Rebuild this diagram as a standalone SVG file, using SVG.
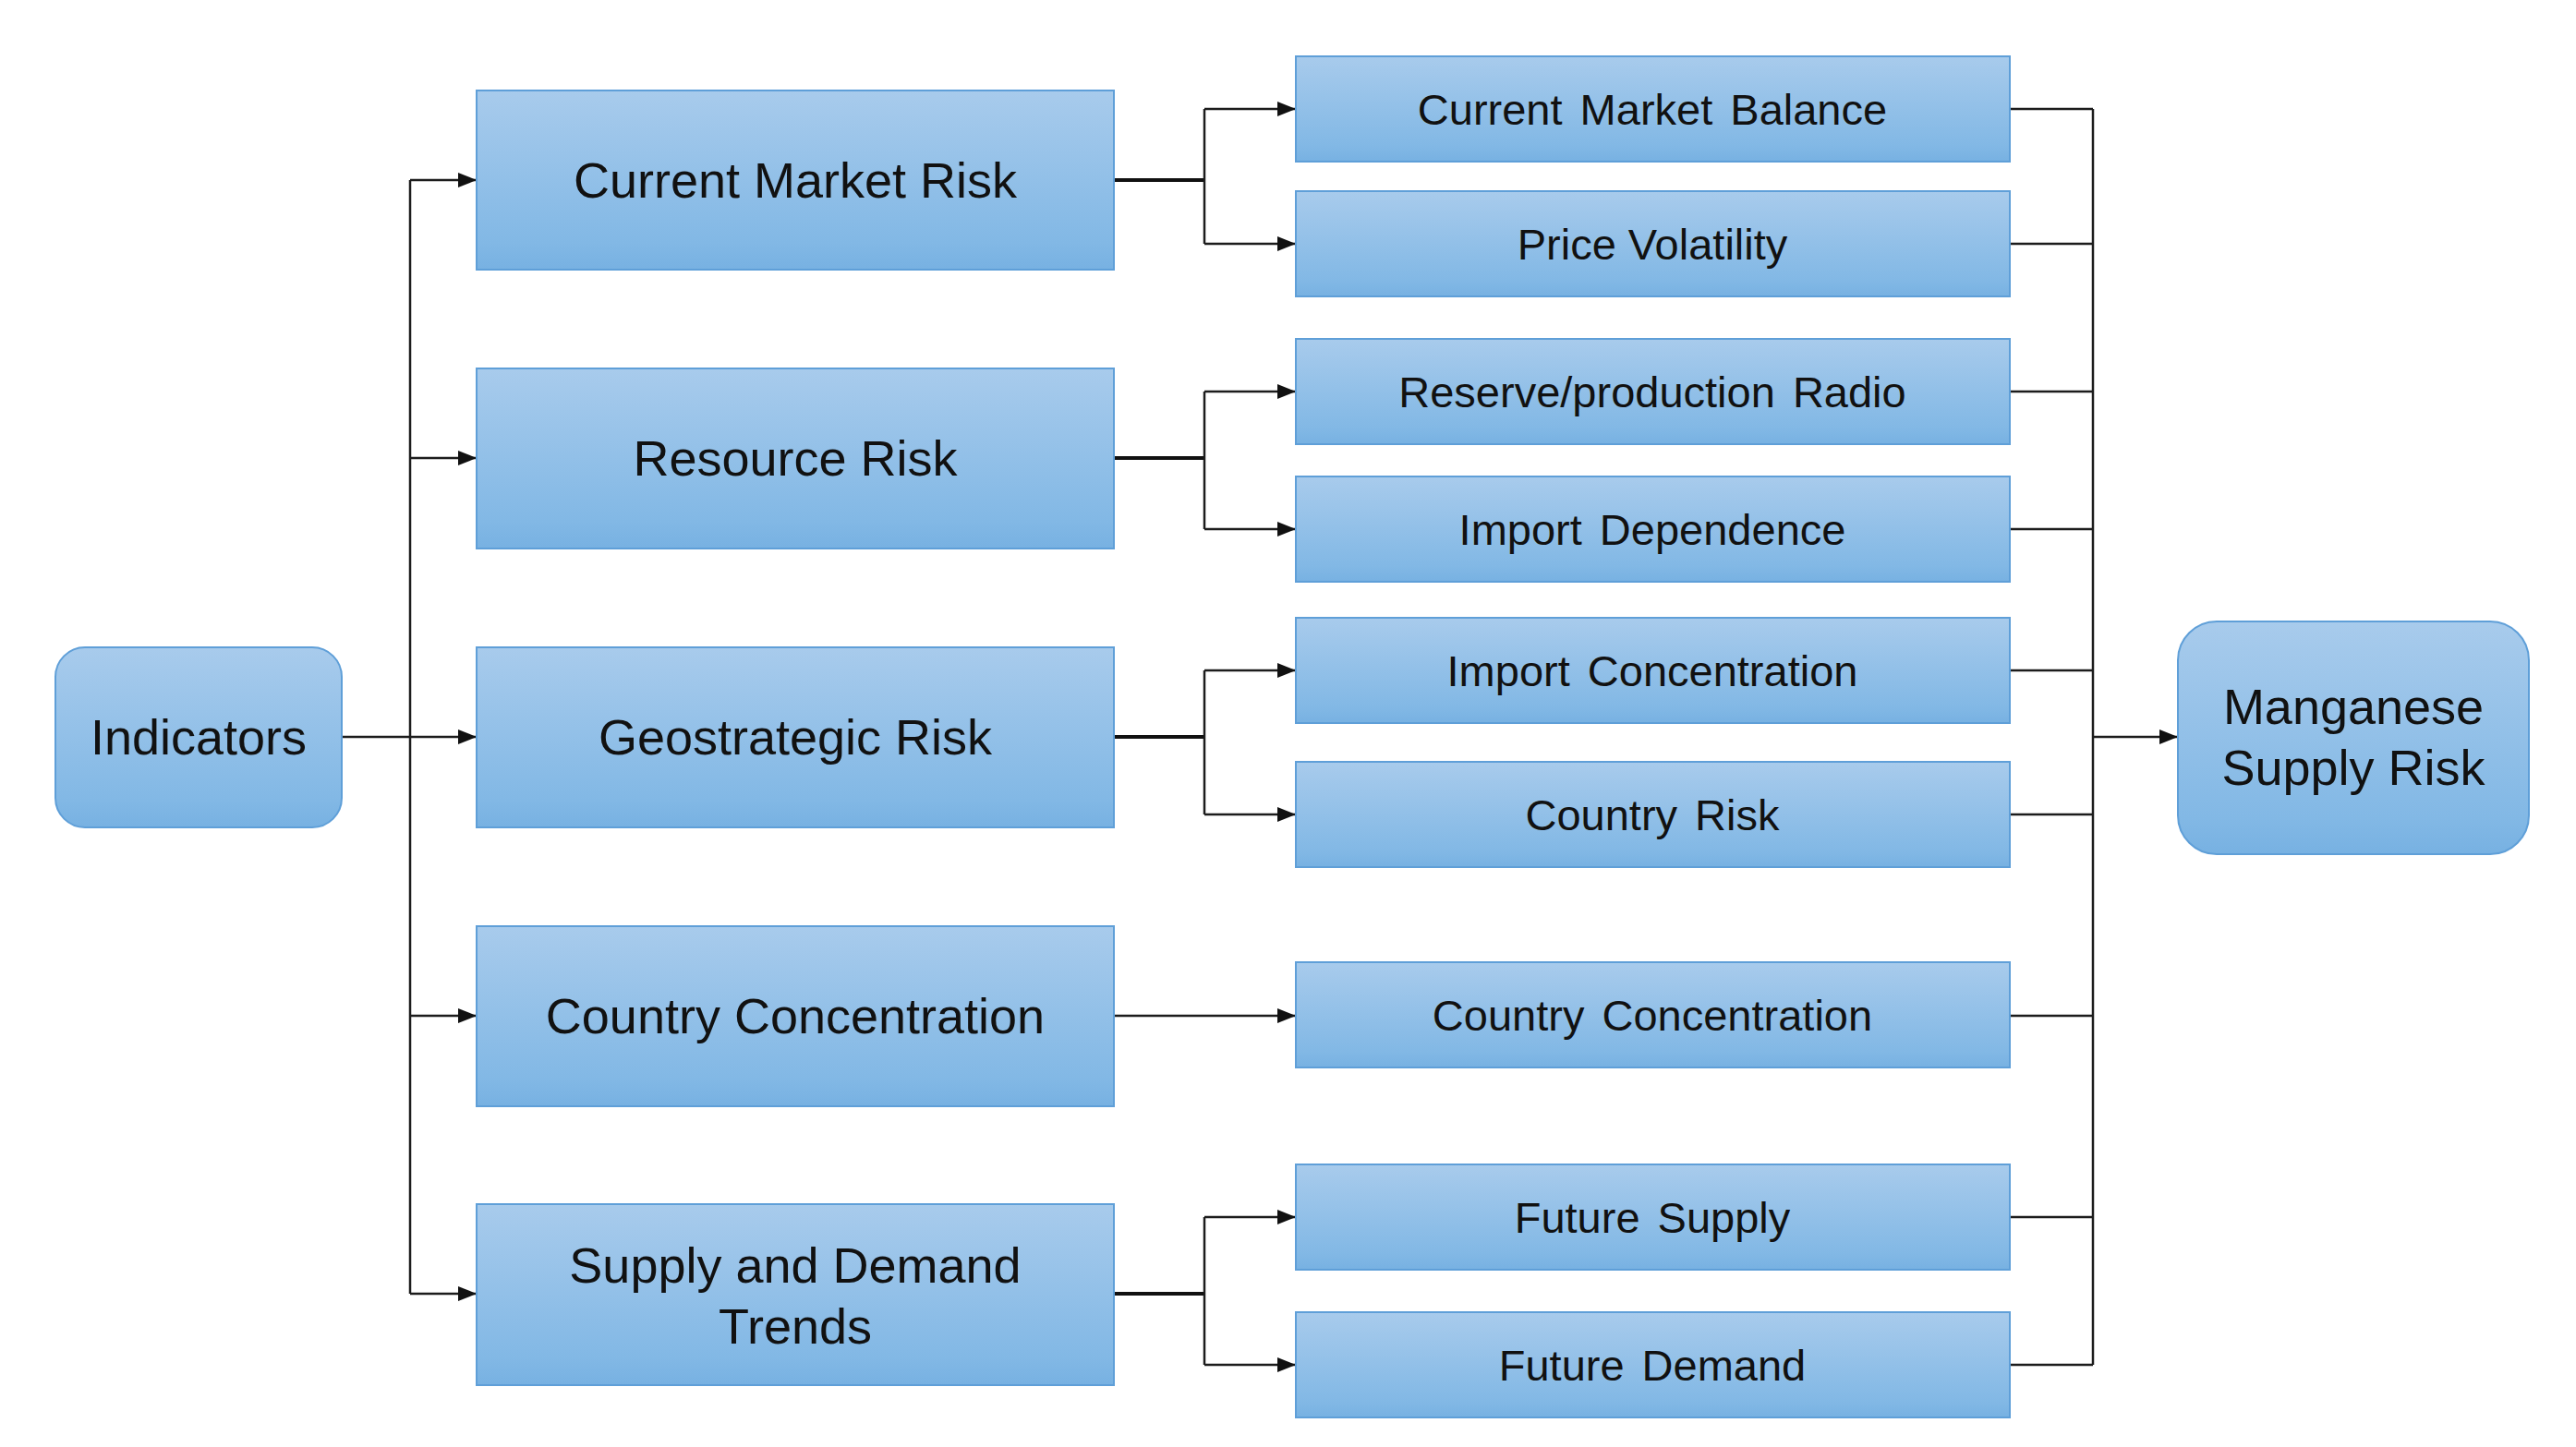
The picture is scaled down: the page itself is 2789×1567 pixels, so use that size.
<svg xmlns="http://www.w3.org/2000/svg" width="2789" height="1567" viewBox="0 0 2789 1567">
<defs>
<linearGradient id="g" x1="0" y1="0" x2="0" y2="1">
<stop offset="0" stop-color="#a8cbec"/>
<stop offset="0.85" stop-color="#82b8e5"/>
<stop offset="1" stop-color="#77b1e2"/>
</linearGradient>
<marker id="ar" markerUnits="userSpaceOnUse" markerWidth="22" markerHeight="18" refX="20" refY="8" orient="auto">
<path d="M0,0 L20,8 L0,16 z" fill="#111"/>
</marker>
</defs>
<style>
.box{fill:url(#g);stroke:#5f9fd8;stroke-width:2}
.t{font-family:"Liberation Sans",Arial,sans-serif;fill:#111;text-anchor:middle}
.big{font-size:54px}
.sm{font-size:47px;word-spacing:6px}
.ln{fill:none;stroke:#1c1c1c;stroke-width:2.5}
.thk{fill:none;stroke:#111;stroke-width:4}
.ah{marker-end:url(#ar)}
</style>
<rect width="2789" height="1567" fill="#fff"/>
<g id="connectors">
<path class="ln" d="M370,798 H444"/>
<path class="ln" d="M444,195 V1401"/>
<path class="ln ah" d="M444,195 H516"/>
<path class="ln ah" d="M444,496 H516"/>
<path class="ln ah" d="M444,798 H516"/>
<path class="ln ah" d="M444,1100 H516"/>
<path class="ln ah" d="M444,1401 H516"/>
<path class="thk" d="M1206,195 H1304"/>
<path class="ln" d="M1304,118 V264"/>
<path class="ln ah" d="M1304,118 H1403"/>
<path class="ln ah" d="M1304,264 H1403"/>
<path class="thk" d="M1206,496 H1304"/>
<path class="ln" d="M1304,424 V573"/>
<path class="ln ah" d="M1304,424 H1403"/>
<path class="ln ah" d="M1304,573 H1403"/>
<path class="thk" d="M1206,798 H1304"/>
<path class="ln" d="M1304,726 V882"/>
<path class="ln ah" d="M1304,726 H1403"/>
<path class="ln ah" d="M1304,882 H1403"/>
<path class="ln ah" d="M1206,1100 H1403"/>
<path class="thk" d="M1206,1401 H1304"/>
<path class="ln" d="M1304,1318 V1478"/>
<path class="ln ah" d="M1304,1318 H1403"/>
<path class="ln ah" d="M1304,1478 H1403"/>
<path class="ln" d="M2176,118 H2266 M2176,264 H2266 M2176,424 H2266 M2176,573 H2266 M2176,726 H2266 M2176,882 H2266 M2176,1100 H2266 M2176,1318 H2266 M2176,1478 H2266"/>
<path class="ln" d="M2266,118 V1478" stroke="#444"/>
<path class="ln ah" d="M2266,798 H2358"/>
</g>
<g id="indicators">
<rect class="box" x="60" y="701" width="310" height="195" rx="32"/>
<text class="t big" x="215" y="817">Indicators</text>
</g>
<g id="current-market-risk">
<rect class="box" x="516" y="98" width="690" height="194"/>
<text class="t big" x="861" y="214">Current Market Risk</text>
</g>
<g id="resource-risk">
<rect class="box" x="516" y="399" width="690" height="195"/>
<text class="t big" x="861" y="515">Resource Risk</text>
</g>
<g id="geostrategic-risk">
<rect class="box" x="516" y="701" width="690" height="195"/>
<text class="t big" x="861" y="817">Geostrategic Risk</text>
</g>
<g id="country-concentration">
<rect class="box" x="516" y="1003" width="690" height="195"/>
<text class="t big" x="861" y="1119">Country Concentration</text>
</g>
<g id="supply-demand-trends">
<rect class="box" x="516" y="1304" width="690" height="196"/>
<text class="t big" x="861" y="1389">Supply and Demand</text>
<text class="t big" x="861" y="1455">Trends</text>
</g>
<g id="current-market-balance">
<rect class="box" x="1403" y="61" width="773" height="114"/>
<text class="t sm" x="1789" y="135">Current Market Balance</text>
</g>
<g id="price-volatility">
<rect class="box" x="1403" y="207" width="773" height="114"/>
<text class="t sm" x="1789" y="281" style="word-spacing:0">Price Volatility</text>
</g>
<g id="reserve-production">
<rect class="box" x="1403" y="367" width="773" height="114"/>
<text class="t sm" x="1789" y="441">Reserve/production Radio</text>
</g>
<g id="import-dependence">
<rect class="box" x="1403" y="516" width="773" height="114"/>
<text class="t sm" x="1789" y="590">Import Dependence</text>
</g>
<g id="import-concentration">
<rect class="box" x="1403" y="669" width="773" height="114"/>
<text class="t sm" x="1789" y="743">Import Concentration</text>
</g>
<g id="country-risk">
<rect class="box" x="1403" y="825" width="773" height="114"/>
<text class="t sm" x="1789" y="899">Country Risk</text>
</g>
<g id="country-concentration-2">
<rect class="box" x="1403" y="1042" width="773" height="114"/>
<text class="t sm" x="1789" y="1116">Country Concentration</text>
</g>
<g id="future-supply">
<rect class="box" x="1403" y="1261" width="773" height="114"/>
<text class="t sm" x="1789" y="1335">Future Supply</text>
</g>
<g id="future-demand">
<rect class="box" x="1403" y="1421" width="773" height="114"/>
<text class="t sm" x="1789" y="1495">Future Demand</text>
</g>
<g id="manganese-supply-risk">
<rect class="box" x="2358" y="673" width="380" height="252" rx="42"/>
<text class="t big" x="2548" y="784">Manganese</text>
<text class="t big" x="2548" y="850">Supply Risk</text>
</g>
</svg>
